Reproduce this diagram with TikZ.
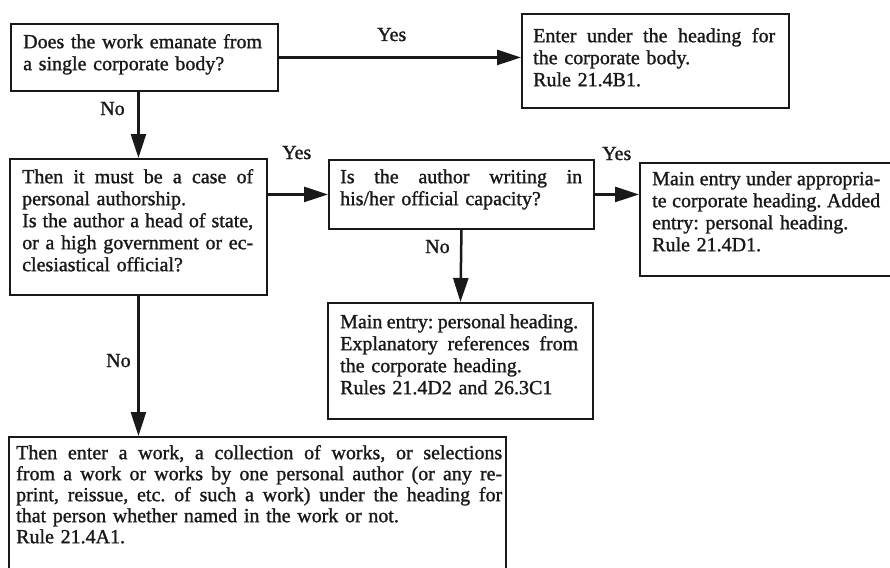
\documentclass[tikz,border=0pt]{standalone}
\usepackage{fontspec}
\setmainfont{Liberation Serif}[FakeBold=1.2]
\usetikzlibrary{arrows.meta}
\setlength\parindent{0pt}
\frenchspacing
\newcommand\jline[2]{{\spaceskip=0.25em plus 3em minus 0.04em\relax\hbox to #1{#2}}}
\tikzset{
  box/.style={draw=black!90, line width=1.9pt, anchor=north west, inner sep=0pt},
  txt/.style={anchor=north west, inner sep=0pt, text=black!90, font=\fontsize{20}{22}\selectfont},
  txtg/.style={anchor=north west, inner sep=0pt, text=black!90, font=\fontsize{20}{21}\selectfont},
  lbl/.style={anchor=base west, inner sep=0pt, text=black!90, font=\fontsize{20}{22}\selectfont},
  arr/.style={draw=black!90, line width=2.5pt, -{Triangle[length=24pt,width=15pt]}},
}
\begin{document}
\begin{tikzpicture}[x=1pt,y=-1pt]
\useasboundingbox (0,0) rectangle (890,567);
\clip (0,0) rectangle (890,567);
\fill[white] (0,0) rectangle (890,567);

% boxes
\node[box, minimum width=267pt, minimum height=67pt]  (A) at (10,23) {};
\node[box, minimum width=267pt, minimum height=94pt]  (B) at (521,13) {};
\node[box, minimum width=257pt, minimum height=136pt] (C) at (9,158) {};
\node[box, minimum width=265pt, minimum height=69pt]  (D) at (328,159) {};
\node[box, minimum width=275pt, minimum height=113pt] (E) at (639,162) {};
\node[box, minimum width=265pt, minimum height=116pt] (F) at (327,302) {};
\node[box, minimum width=497pt, minimum height=200pt] (G) at (8,436) {};

% texts
\node[txt, text width=242pt] (At) at (23,32.6)
  {\strut Does the work emanate from\newline a single corporate body?};
\node[txt, text width=242pt] (Bt) at (533,26.6)
  {\strut\jline{242pt}{Enter under the heading for}\newline the corporate body.\newline Rule 21.4B1.};
\node[txt, text width=231pt] (Ct) at (22,167.6)
  {\strut\jline{231pt}{Then it must be a case of}\newline personal authorship.\newline
   \jline{231pt}{Is the author a head of state,}\newline \jline{231pt}{or a high government or ec-}\newline
   clesiastical official?};
\node[txt, text width=242pt] (Dt) at (340,167.6)
  {\strut\jline{242pt}{Is the author writing in}\newline his/her official capacity?};
\node[txt, text width=228pt] (Et) at (652,169.6)
  {\strut\jline{228pt}{Main entry under appropria-}\newline \jline{228pt}{te corporate heading. Added}\newline
   entry: personal heading.\newline Rule 21.4D1.};
\node[txt, text width=240pt] (Ft) at (340,312.6)
  {\strut\jline{238pt}{Main entry: personal heading.}\newline \jline{238pt}{Explanatory references from}\newline
   the corporate heading.\newline Rules 21.4D2 and 26.3C1};
\node[txtg, text width=486pt] (Gt) at (16,444.3)
  {\strut\jline{486pt}{Then enter a work, a collection of works, or selections}\newline
   \jline{486pt}{from a work or works by one personal author (or any re-}\newline
   \jline{486pt}{print, reissue, etc. of such a work) under the heading for}\newline
   that person whether named in the work or not.\newline
   Rule 21.4A1.};

% connectors
\draw[arr] (A.east) -- (A.east -| B.west);
\draw[arr] (A.south -| C.north) -- (C.north);
\draw[arr] (C.east |- D.west) -- (D.west);
\draw[arr] (D.east) -- (D.east -| E.west);
\draw[arr] (D.south) -- (F.north);
\draw[arr] (C.south) -- (C.south |- G.north);

% labels
\node[lbl] (y1) at (377,41) {Yes};
\node[lbl] (n1) at (100,115) {No};
\node[lbl] (y2) at (282,159) {Yes};
\node[lbl] (y3) at (602,160) {Yes};
\node[lbl] (n2) at (425,253) {No};
\node[lbl] (n3) at (106,367) {No};
\end{tikzpicture}
\end{document}
